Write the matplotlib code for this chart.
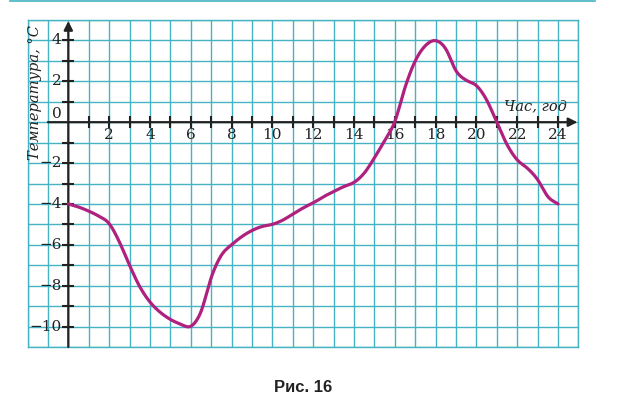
import numpy as np
import matplotlib
matplotlib.use("Agg")
import matplotlib.pyplot as plt
from matplotlib.lines import Line2D

# ---- data ----
hours = [0, 0.5, 1, 1.5, 2, 2.5, 3, 3.5, 4, 4.5, 5, 5.5, 6, 6.5, 7, 7.5, 8, 8.5,
         9, 9.5, 10, 10.5, 11, 11.5, 12, 12.5, 13, 13.5, 14, 14.5, 15, 15.5, 16,
         16.5, 17, 17.5, 18, 18.5, 19, 19.5, 20, 20.5, 21, 21.5, 22, 22.5, 23,
         23.5, 24]
temps = [-4.0, -4.15, -4.35, -4.6, -4.95, -5.85, -7.0, -8.05, -8.8, -9.3, -9.65,
         -9.88, -10.0, -9.3, -7.6, -6.5, -6.0, -5.6, -5.3, -5.1, -5.0, -4.8,
         -4.5, -4.2, -3.95, -3.65, -3.4, -3.15, -2.95, -2.5, -1.75, -0.9, 0.0,
         1.7, 3.0, 3.75, 4.0, 3.6, 2.5, 2.05, 1.8, 1.1, 0.0, -1.1, -1.85, -2.25,
         -2.8, -3.65, -4.0]
x_tick_labels = [2, 4, 6, 8, 10, 12, 14, 16, 18, 20, 22, 24]
y_tick_labels = [4, 2, 0, -2, -4, -6, -8, -10]
x_label = "Час, год"
y_label = "Температура, °C"
caption = "Рис. 16"

GRID = "#45B3C4"
CURVE = "#B0207E"
SERIF = "DejaVu Serif"


def smooth(xs, ys, step=0.01, sigma=0.09):
    xs = np.asarray(xs, float)
    ys = np.asarray(ys, float)
    m = np.zeros_like(ys)
    m[1:-1] = (ys[2:] - ys[:-2]) / (xs[2:] - xs[:-2])
    m[0] = (ys[1] - ys[0]) / (xs[1] - xs[0])
    m[-1] = (ys[-1] - ys[-2]) / (xs[-1] - xs[-2])
    n = int(round((xs[1] - xs[0]) / step))
    ox, oy = [], []
    for i in range(len(xs) - 1):
        h = xs[i + 1] - xs[i]
        t = np.linspace(0, 1, n, endpoint=False)
        h00 = 2 * t**3 - 3 * t**2 + 1
        h10 = t**3 - 2 * t**2 + t
        h01 = -2 * t**3 + 3 * t**2
        h11 = t**3 - t**2
        ox.extend(xs[i] + t * h)
        oy.extend(h00 * ys[i] + h10 * h * m[i] + h01 * ys[i + 1] + h11 * h * m[i + 1])
    ox.append(xs[-1])
    oy.append(ys[-1])
    ox = np.array(ox)
    oy = np.array(oy)
    # gentle gaussian smoothing of the drawn path
    k = int(3 * sigma / step)
    kx = np.arange(-k, k + 1) * step
    w = np.exp(-0.5 * (kx / sigma) ** 2)
    w /= w.sum()
    pad_l = oy[0] + (oy[0] - oy[1:k + 1][::-1])
    pad_r = oy[-1] + (oy[-1] - oy[-k - 1:-1][::-1])
    yy = np.convolve(np.concatenate([pad_l, oy, pad_r]), w, mode="valid")
    return ox, yy


fig = plt.figure(figsize=(6.24, 4.08), dpi=100)
ax = fig.add_axes([27.5 / 624, 1 - 347 / 408, (578.4 - 27.5) / 624, (347 - 20) / 408])
ax.set_xlim(-2, 25)
ax.set_ylim(-11, 5)
ax.set_xticks(np.arange(-2, 26, 1))
ax.set_yticks(np.arange(-11, 6, 1))
ax.tick_params(length=0, labelbottom=False, labelleft=False)
ax.grid(True, color=GRID, lw=1.0)
for s in ax.spines.values():
    s.set_color(GRID)
    s.set_linewidth(1.0)

# axes with arrows
ax.annotate("", xy=(0, 4.95), xytext=(0, -11),
            arrowprops=dict(arrowstyle="-|>", color="#222222", lw=1.6,
                            mutation_scale=13, shrinkA=0, shrinkB=0))
ax.annotate("", xy=(24.95, 0), xytext=(-1, 0),
            arrowprops=dict(arrowstyle="-|>", color="#222222", lw=1.6,
                            mutation_scale=13, shrinkA=0, shrinkB=0))
xt = np.arange(1, 25)
ax.plot(xt, np.zeros_like(xt), ls="none", marker="|", ms=8, mew=1.5, color="#222222")
yt = [v for v in range(-10, 5) if v != 0]
ax.plot(np.zeros(len(yt)), yt, ls="none", marker="_", ms=8, mew=1.5, color="#222222")

for v in x_tick_labels:
    ax.text(v, -0.62, str(v), ha="center", va="center", fontsize=11,
            family=SERIF, color="#222222")
for v in y_tick_labels:
    lab = str(v).replace("-", "\u2212")
    yy = 0.42 if v == 0 else v
    ax.text(-0.33, yy, lab, ha="right", va="center", fontsize=11,
            family=SERIF, color="#222222")

ax.text(-1.63, 1.47, y_label, rotation=90, ha="center", va="center",
        fontsize=10.5, family=SERIF, style="italic", color="#222222")
ax.text(22.87, 0.8, x_label, ha="center", va="center", fontsize=10.5,
        family=SERIF, style="italic", color="#222222")

sx, sy = smooth(hours, temps)
ax.plot(sx, sy, color=CURVE, lw=2.3, solid_capstyle="round", zorder=5)

fig.text(303 / 624, 1 - 387 / 408, caption, ha="center", va="center",
         fontsize=12, family="Liberation Sans", weight="bold", color="#222222")
fig.add_artist(Line2D([10 / 624, 595 / 624], [1 - 1 / 408, 1 - 1 / 408],
                      color=GRID, lw=1.2, transform=fig.transFigure))

fig.savefig("out.png", dpi=100)
